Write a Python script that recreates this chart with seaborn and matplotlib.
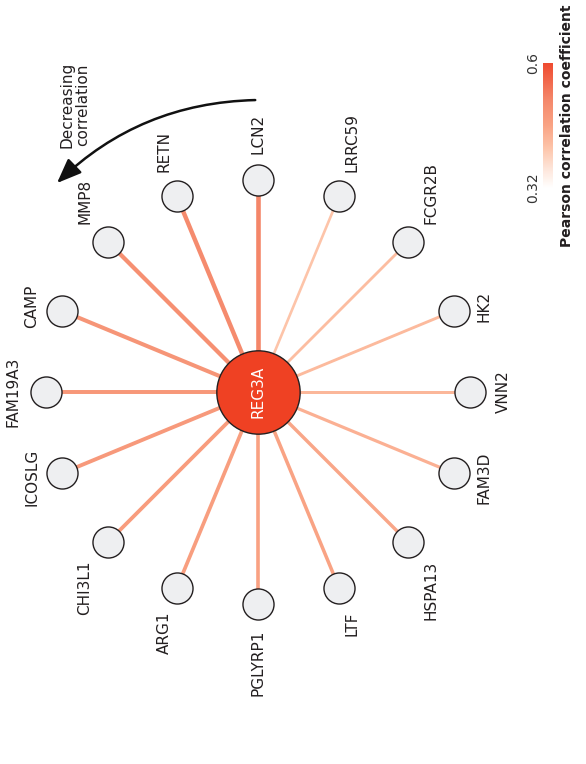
import numpy as np
import pandas as pd
import matplotlib
matplotlib.use("Agg")
import matplotlib.pyplot as plt
import seaborn as sns
from matplotlib.patches import FancyArrowPatch
from matplotlib.colors import Normalize, LinearSegmentedColormap
from matplotlib.cm import ScalarMappable

# genes ordered by decreasing correlation with REG3A (counter-clockwise from top)
hub = "REG3A"
genes = ["LCN2", "RETN", "MMP8", "CAMP", "FAM19A3", "ICOSLG", "CHI3L1", "ARG1",
         "PGLYRP1", "LTF", "HSPA13", "FAM3D", "VNN2", "HK2", "FCGR2B", "LRRC59"]
pearson_r = [0.52, 0.51, 0.50, 0.49, 0.485, 0.48, 0.475, 0.47,
             0.465, 0.46, 0.455, 0.44, 0.43, 0.425, 0.42, 0.41]
cbar_ticks = [0.32, 0.6]

sns.set_theme(style="white")
plt.rcParams["font.family"] = ["DejaVu Sans"]

txt_col = "#231f20"
hub_col = "#ef4123"
node_fill = "#eeeff1"
cmap = LinearSegmentedColormap.from_list(
    "pearson", [(0.0, "#ffffff"), (0.18, "#fde0d2"), (0.32, "#fdc4a9"),
                (0.5, "#f9a384"), (0.71, "#f4876a"), (1.0, "#ef4a2f")])
norm = Normalize(vmin=cbar_ticks[0], vmax=cbar_ticks[1])

# layout in pixel units (y pointing down)
W, H = 586, 764
cx, cy = 258, 392
R = 212
step = 2 * np.pi / len(genes)
ang = np.pi / 2 + step * np.arange(len(genes))

df = pd.DataFrame({"gene": genes, "r": pearson_r, "theta": ang})
df["x"] = cx + R * np.cos(df["theta"])
df["y"] = cy - R * np.sin(df["theta"])

fig = plt.figure(figsize=(W / 100, H / 100), dpi=100)
ax = fig.add_axes([0, 0, 1, 1])
ax.set_xlim(0, W)
ax.set_ylim(H, 0)
ax.set_aspect("equal")
ax.axis("off")

# edges
lw_min, lw_max = 1.9, 3.3
rmin, rmax = df["r"].min(), df["r"].max()
for _, row in df.iterrows():
    lw = lw_min + (row["r"] - rmin) / (rmax - rmin) * (lw_max - lw_min)
    ax.plot([cx, row["x"]], [cy, row["y"]], color=cmap(norm(row["r"])), lw=lw,
            solid_capstyle="butt", zorder=1)

# nodes
sns.scatterplot(data=df, x="x", y="y", s=500, color=node_fill, edgecolor=txt_col,
                linewidth=1.0, zorder=3, ax=ax, legend=False)
ax.scatter([cx], [cy], s=3600, color=hub_col, edgecolor=txt_col, linewidth=1.0, zorder=4)
ax.text(cx, cy, hub, rotation=90, color="white", fontsize=11, ha="center", va="center",
        zorder=5)
ax.set_xlabel("")
ax.set_ylabel("")

# gene labels
for _, row in df.iterrows():
    c, s = np.cos(row["theta"]), np.sin(row["theta"])
    lx = row["x"] + 33 * c
    ly = row["y"] - 26 * s
    if s > 0.5:
        ha = "left"
    elif s < -0.5:
        ha = "right"
    else:
        ha = "center"
        ly = row["y"] - 12 * s
    ax.text(lx, ly, row["gene"], rotation=90, rotation_mode="anchor", ha=ha,
            va="center", fontsize=11, color=txt_col)

# curved arrow
arrow = FancyArrowPatch((258, 100), (55, 185), connectionstyle="arc3,rad=0.2",
                        arrowstyle="-|>,head_length=0.75,head_width=0.3",
                        mutation_scale=20, color="#111111", lw=1.8, zorder=2)
ax.add_patch(arrow)
ax.text(75, 105, "Decreasing\ncorrelation", rotation=90, ha="center", va="center",
        multialignment="center", fontsize=11, color=txt_col, linespacing=1.1)

# colour bar
cax = fig.add_axes([543 / W, 1 - 188 / H, 10 / W, 125 / H])
sm = ScalarMappable(norm=norm, cmap=cmap)
cb = fig.colorbar(sm, cax=cax, orientation="vertical")
cb.outline.set_visible(False)
cb.set_ticks(cbar_ticks)
cb.set_ticklabels(["0.32", "0.6"])
cax.yaxis.set_ticks_position("left")
cax.tick_params(length=0, pad=2, labelsize=10, labelcolor="#333333")
for t in cax.get_yticklabels():
    t.set_rotation(90)
    t.set_va("center")
cax.yaxis.set_label_position("right")
cb.set_label("Pearson correlation coefficient", rotation=90, fontsize=10,
             fontweight="bold", color=txt_col, labelpad=5)

fig.savefig("out.png", dpi=100)
